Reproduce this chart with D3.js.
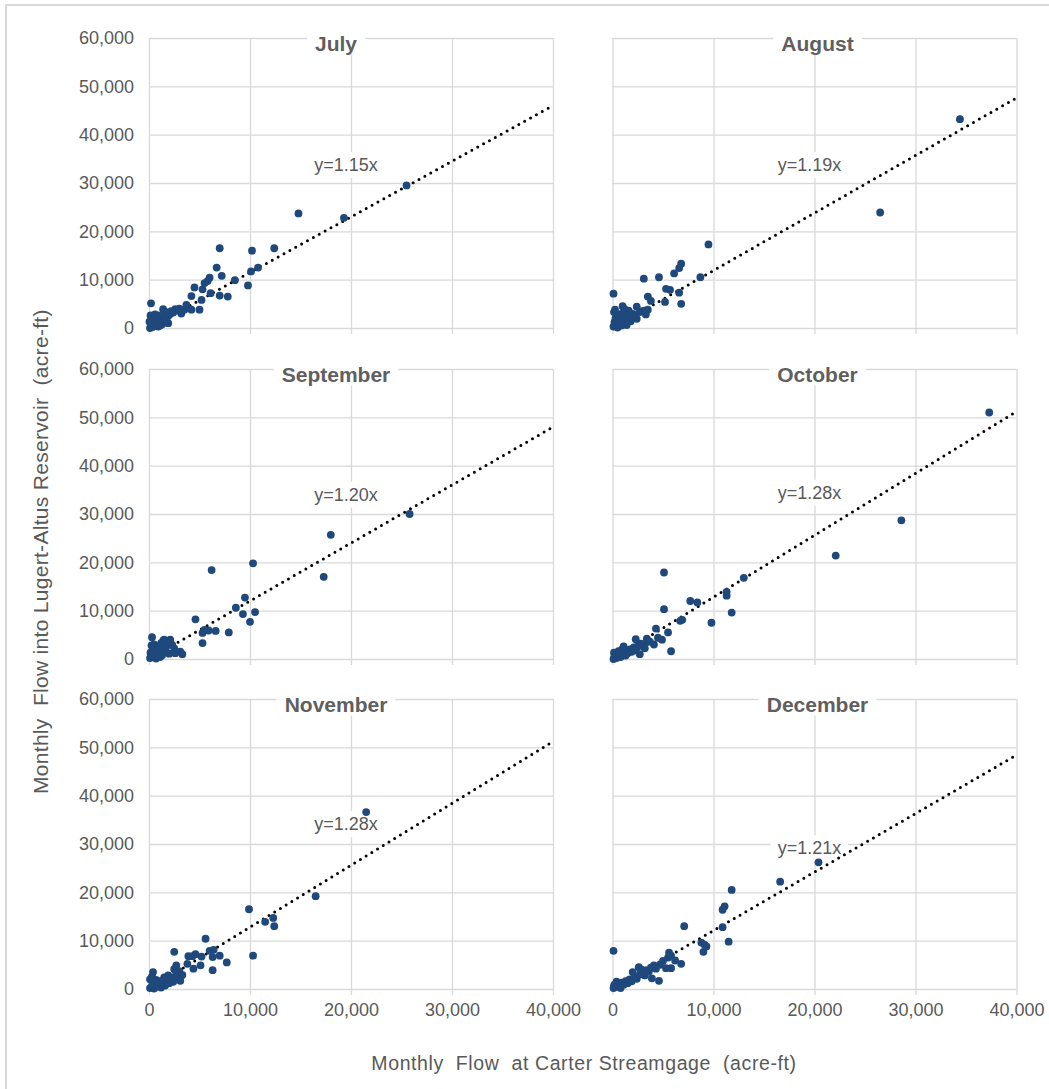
<!DOCTYPE html>
<html>
<head>
<meta charset="utf-8">
<script src="https://cdn.jsdelivr.net/npm/d3@7"></script>
<style>
  body { margin: 0; background: #fff; }
  svg { font-family: "Liberation Sans", Arial, sans-serif; }
</style>
</head>
<body>
<svg width="1049" height="1089"></svg>
<script>
// flows in acre-ft: [carter streamgage, inflow to lugert-altus]
const july = [
  [25500,29500],[14800,23700],[19300,22800],[7000,16500],[10200,16000],[12400,16500],
  [6700,12500],[7200,10800],[10100,11700],[10800,12500],[8500,9900],[9800,8800],
  [6000,10400],[5500,9300],[4500,8400],[5800,9700],[5300,8000],[4200,6600],
  [6100,7200],[7000,6700],[7800,6500],[5200,5800],[3700,4800],[4200,3800],
  [5000,3800],[3200,3000],[2600,3900],[1400,3900],[200,5100],[2000,2700],
  [100,0],[200,400],[300,1000],[400,1800],[500,2300],[150,2600],[600,700],[800,1200],
  [900,300],[1000,1600],[1200,2200],[1300,800],[1500,2900],[1600,1500],[1800,2300],
  [2200,3500],[2400,3200],[700,1900],[350,200],[1100,500],[50,1300],[250,2000],
  [1700,3300],[900,2600],[2800,3600],[3000,4000],[1900,1000],[600,2800],[3500,3800]
];
const august = [
  [34400,43200],[26500,23900],[9500,17300],[6800,13300],[6600,12400],[6100,11300],
  [3100,10200],[4600,10500],[8700,10500],[5300,8100],[5700,7900],[6600,7300],
  [3500,6500],[3800,5600],[5200,5400],[6800,5000],[2400,4400],[3500,3800],
  [3300,2800],[100,7100],[1000,4500],[2400,1900],
  [100,300],[200,1200],[300,2000],[400,2800],[150,3300],[600,800],[700,1600],
  [800,2400],[1000,3100],[1100,1200],[1300,2100],[1500,2600],[1600,3600],[1800,1400],
  [2000,2900],[500,100],[900,500],[1200,3900],[250,3800],[1400,600],[2200,2400],
  [2700,3300],[2900,3500],[3200,3600]
];
const september = [
  [25800,30000],[18000,25700],[17300,17000],[10300,19800],[6200,18400],[9500,12700],
  [8600,10600],[9300,9300],[10500,9700],[10000,7700],[4600,8200],[6600,5800],
  [7900,5500],[5500,6000],[5900,5900],[5300,5400],[5300,3300],[300,4500],
  [1500,4000],[2100,4000],[3100,1500],[3300,1000],[2600,1200],
  [100,200],[200,900],[300,1600],[400,2300],[500,3000],[600,500],[800,1300],
  [900,2000],[1000,2700],[1200,3300],[1300,800],[1500,1800],[1700,2500],[1800,3600],
  [2000,1100],[150,1300],[700,100],[1100,400],[2300,2900],[1400,3800],[2500,2200],
  [250,2800],[1900,3100]
];
const october = [
  [37300,51000],[28600,28700],[22100,21400],[5100,17900],[13000,16800],[11300,13900],
  [11300,13100],[11800,9600],[7700,12000],[8400,11700],[5100,10300],[9800,7500],
  [6900,8100],[6700,7900],[4300,6300],[5500,5500],[4900,4000],[5800,1600],
  [2300,4100],[3400,4200],[3400,3500],[2800,3200],
  [100,0],[200,500],[300,1000],[400,200],[500,700],[700,1100],[800,400],[1000,900],
  [1200,1500],[1300,700],[1500,1200],[1700,2000],[1900,1500],[2100,2400],[2300,1800],
  [2500,2600],[3000,2700],[150,1300],[600,1600],[900,1900],[1100,2600],[3700,3600],
  [4100,3000],[4500,4400],[2700,1000],[3200,2200]
];
const november = [
  [21500,36600],[16500,19200],[9900,16500],[12300,14700],[11500,13900],[12400,13000],
  [10300,6900],[5600,10400],[2500,7700],[6000,7900],[6400,8100],[6300,6600],
  [7000,6900],[7700,5500],[4600,7200],[3900,6800],[4300,6800],[5200,6700],
  [3800,5200],[5100,4900],[4400,4200],[6300,3900],[2700,4900],[2500,4100],
  [3300,2900],[3100,1700],[400,3500],[100,2000],
  [100,200],[300,700],[500,100],[600,1200],[800,500],[1000,900],[1200,300],
  [1400,1300],[1600,700],[1800,1700],[2000,1200],[2200,2100],[2400,1500],[1100,1600],
  [700,1900],[300,2600],[2800,3300],[3000,3700],[1500,2400],[1900,2800],[2600,2600]
];
const december = [
  [20400,26200],[16600,22200],[11800,20500],[11100,17100],[10900,16400],[10900,12800],
  [11500,9800],[7100,13000],[8800,9600],[9100,9200],[9300,8800],[9000,7700],
  [100,7900],[5600,7500],[5800,6900],[6200,5900],[6800,5200],[5300,4300],
  [5800,4300],[4700,5000],[4100,4900],[3900,2200],[4600,1700],[2600,4500],[2000,3500],
  [100,200],[200,900],[300,400],[500,1100],[700,600],[900,1300],[1100,900],
  [1300,1600],[1500,1200],[1700,2000],[1900,1600],[2200,2600],[2400,2100],[2700,3000],
  [3000,3400],[3200,2800],[3400,3900],[3600,3600],[400,1500],[150,600],[800,200],
  [2900,4000],[3800,4400],[4300,4200],[5000,5800],[5500,6500]
];

const months = ["July", "August", "September", "October", "November", "December"];
const monthData = [july, august, september, october, november, december];
const slopes = [1.15, 1.19, 1.20, 1.28, 1.28, 1.21];
const eqLabelY = [33700, 33700, 34000, 34400, 34100, 29100]; // where excel put the labels
const xTicks = [0, 10000, 20000, 30000, 40000];
const yTicks = [0, 10000, 20000, 30000, 40000, 50000, 60000];

let svg = d3.select("svg");
let textColor = "#595959";
let gridColor = "#d9d9d9";
let dotColor = "#1f497d";

let colX = [149, 612.5];
let rowY = [38, 369, 699];
let pw = 404, ph = 290;
let titleShift = [-15, 3]; // excel centres titles on the whole chart box, not the plot

svg.append("rect")
    .attr("x", 6).attr("y", 5)
    .attr("width", 1100).attr("height", 1100)
    .style("fill", "none")
    .style("stroke", gridColor)
    .style("stroke-width", 2)

let fmt = d3.format(",")

months.forEach(function (month, i) {
    let col = i % 2, row = Math.floor(i / 2)
    let g = svg.append("g")

    let x = d3.scaleLinear()
        .domain([0, 40000])
        .range([colX[col], colX[col] + pw])

    let y = d3.scaleLinear()
        .domain([0, 60000])
        .range([rowY[row] + ph, rowY[row]])

    // horizontal grid + y labels
    g.append("g")
        .attr("class", "y axis")
        .attr("transform", `translate(${x(0)},0)`)
        .call(d3.axisLeft(y)
            .tickValues(yTicks)
            .tickSize(-pw)
            .tickPadding(15)
            .tickFormat(col == 0 ? fmt : ""))

    // vertical grid, poking out below the axis a little
    g.append("g")
        .attr("class", "x axis")
        .attr("transform", `translate(0,${y(0) + 6})`)
        .call(d3.axisBottom(x)
            .tickValues(xTicks)
            .tickSize(-(ph + 6))
            .tickPadding(8)
            .tickFormat(row == 2 ? fmt : ""))

    g.selectAll(".axis .domain").remove()
    g.selectAll(".axis line")
        .style("stroke", gridColor)
        .style("stroke-width", 1.3)
    g.selectAll(".axis text")
        .style("font-size", "18px")
        .style("font-family", "Liberation Sans, Arial, sans-serif")
        .style("fill", textColor)

    // equation label with its white box
    let eq = g.append("text")
        .attr("x", x(19500))
        .attr("y", y(eqLabelY[i]))
        .attr("text-anchor", "middle")
        .attr("dominant-baseline", "central")
        .style("font-size", "18px")
        .style("fill", textColor)
        .text("y=" + slopes[i].toFixed(2) + "x")
    let bb = eq.node().getBBox()
    g.insert("rect", () => eq.node())
        .attr("x", bb.x - 7).attr("y", bb.y - 3)
        .attr("width", bb.width + 14).attr("height", bb.height + 6)
        .style("fill", "#fff")

    // month title with white box
    let title = g.append("text")
        .attr("x", (x(0) + x(40000)) / 2 + titleShift[col])
        .attr("y", rowY[row] + 5)
        .attr("text-anchor", "middle")
        .attr("dominant-baseline", "central")
        .style("font-size", "21px")
        .style("font-weight", "bold")
        .style("fill", "#5f5f5f")
        .text(month)
    let tb = title.node().getBBox()
    g.insert("rect", () => title.node())
        .attr("x", tb.x - 8).attr("y", tb.y - 4)
        .attr("width", tb.width + 16).attr("height", tb.height + 4)
        .style("fill", "#fff")

    let line = d3.line()
        .x(d => x(d))
        .y(d => y(d * slopes[i]))

    g.append("path")
        .datum([0, 40000])
        .attr("d", line)
        .style("fill", "none")
        .style("stroke", "#000")
        .style("stroke-width", 3)
        .style("stroke-linecap", "round")
        .style("stroke-dasharray", "0 6.7")

    g.selectAll(".dot")
        .data(monthData[i])
        .join("circle")
        .attr("class", "dot")
        .attr("cx", d => x(d[0]))
        .attr("cy", d => y(d[1]))
        .attr("r", 3.9)
        .style("fill", dotColor)
})

// axis titles keep excel's double spaces
svg.append("text")
    .attr("transform", "translate(40,794) rotate(-90)")
    .attr("text-anchor", "start")
    .attr("dominant-baseline", "central")
    .style("white-space", "pre")
    .style("font-size", "21px")
    .style("letter-spacing", "0.3px")
    .style("fill", textColor)
    .text("Monthly  Flow into Lugert-Altus Reservoir  (acre-ft)")

svg.append("text")
    .attr("x", 584)
    .attr("y", 1063)
    .attr("text-anchor", "middle")
    .attr("dominant-baseline", "central")
    .style("white-space", "pre")
    .style("font-size", "19.5px")
    .style("letter-spacing", "0.6px")
    .style("fill", textColor)
    .text("Monthly  Flow  at Carter Streamgage  (acre-ft)")
</script>
</body>
</html>
